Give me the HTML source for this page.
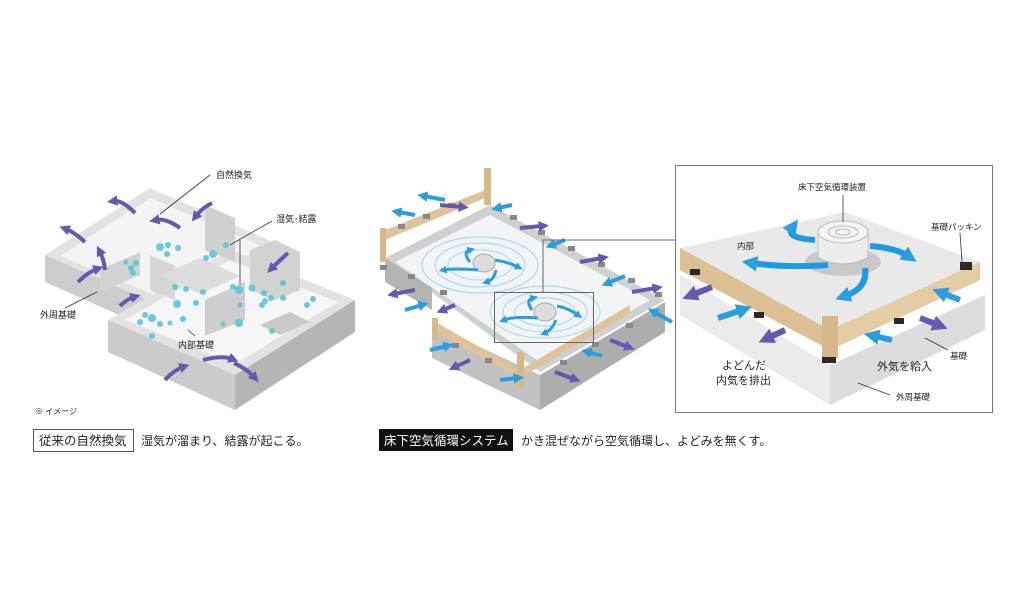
<!DOCTYPE html>
<html><head><meta charset="utf-8"><style>
html,body{margin:0;padding:0;background:#fff;}
svg{display:block;}
text{font-family:"Liberation Sans","Noto Sans CJK JP",sans-serif;fill:#222;}
</style></head><body>
<svg width="1024" height="614" viewBox="0 0 1024 614" xmlns="http://www.w3.org/2000/svg">
<defs>
<marker id="ap" viewBox="0 0 6 6" markerWidth="2.6" markerHeight="2.6" refX="2" refY="3" orient="auto" markerUnits="strokeWidth"><path d="M0,0 L6,3 L0,6 z" fill="#6458b0"/></marker>
<marker id="ab" viewBox="0 0 6 6" markerWidth="2.6" markerHeight="2.6" refX="2" refY="3" orient="auto" markerUnits="strokeWidth"><path d="M0,0 L6,3 L0,6 z" fill="#2a9ede"/></marker>
</defs>

<!-- LEFT DIAGRAM -->
<g>
<polygon points="45,255 150,188 280,245 175,312" fill="#e2e2e2"/>
<polygon points="45,255 175,312 175,340 45,282" fill="#cdcdcd"/>
<polygon points="60,256 150,198 262,246 172,302" fill="#f4f4f4"/>
<polygon points="108,320 230,250 355,300 235,375" fill="#e2e2e2"/>
<polygon points="108,320 235,375 235,410 108,352" fill="#cbcbcb"/>
<polygon points="235,375 355,300 355,332 235,410" fill="#b5b5b5"/>
<polygon points="125,320 230,260 338,302 235,364" fill="#f6f6f6"/>
<polygon points="205,205 235,218 235,262 205,250" fill="#d0d0d0"/>
<polygon points="150,255 175,266 175,300 150,290" fill="#d6d6d6"/>
<polygon points="160,275 200,258 240,276 200,294" fill="#dcdcdc"/>
<polygon points="250,250 275,240 300,252 300,290 275,300 250,290" fill="#d2d2d2"/>
<polygon points="205,300 245,282 245,320 205,336" fill="#cecece"/>
<polygon points="260,325 290,312 310,322 280,335" fill="#c9c9c9"/>
<polygon points="100,270 140,252 140,275 100,292" fill="#d2d2d2"/>
<g fill="#5ec4d8" opacity="0.9">
<circle cx="160" cy="247" r="4"/><circle cx="168" cy="245" r="3"/><circle cx="178" cy="248" r="3"/><circle cx="167" cy="254" r="3"/>
<circle cx="131" cy="268" r="3"/><circle cx="136" cy="263" r="3"/><circle cx="133" cy="273" r="3"/><circle cx="126" cy="262" r="2.5"/>
<circle cx="206" cy="258" r="3"/><circle cx="213" cy="254" r="4"/><circle cx="226" cy="245" r="3"/>
<circle cx="175" cy="287" r="3"/><circle cx="186" cy="289" r="3"/><circle cx="177" cy="304" r="4"/><circle cx="196" cy="303" r="3"/><circle cx="203" cy="292" r="3"/>
<circle cx="145" cy="315" r="3"/><circle cx="140" cy="322" r="3"/><circle cx="152" cy="318" r="4"/><circle cx="160" cy="324" r="3"/><circle cx="152" cy="336" r="3"/><circle cx="170" cy="323" r="2.5"/><circle cx="183" cy="319" r="3"/>
<circle cx="233" cy="287" r="3"/><circle cx="239" cy="290" r="4"/><circle cx="252" cy="288" r="3.5"/><circle cx="264" cy="293" r="3"/><circle cx="265" cy="301" r="3"/><circle cx="271" cy="298" r="3"/><circle cx="262" cy="305" r="3"/><circle cx="240" cy="305" r="2.5"/><circle cx="239" cy="323" r="4"/><circle cx="223" cy="324" r="2.5"/>
<circle cx="283" cy="298" r="3"/><circle cx="313" cy="299" r="3"/><circle cx="307" cy="305" r="3"/><circle cx="283" cy="283" r="3"/><circle cx="272" cy="331" r="3"/>
</g>
<g fill="none" stroke="#6458b0" stroke-width="4" marker-end="url(#ap)">
<path d="M135,213 Q122,200 114,201"/>
<path d="M85,242 Q74,232 66,229"/>
<path d="M105,270 Q104,260 100,252"/>
<path d="M78,282 Q88,272 97,269"/>
<path d="M180,228 Q166,218 156,220"/>
<path d="M212,203 Q202,208 196,216"/>
<path d="M288,253 Q278,262 272,268"/>
<path d="M120,306 Q127,299 134,297"/>
<path d="M165,380 Q174,370 183,367"/>
<path d="M203,360 Q222,355 232,359"/>
<path d="M234,363 Q247,369 254,377"/>
</g>
<g stroke="#333" stroke-width="0.8" fill="none">
<line x1="160" y1="214" x2="210" y2="175"/>
<line x1="230" y1="245" x2="272" y2="221"/>
<line x1="240" y1="240" x2="240" y2="285"/>
<line x1="65" y1="308" x2="97" y2="292"/>
<line x1="188" y1="330" x2="195" y2="336"/>
</g>
<text x="216" y="178" font-size="9">自然換気</text>
<text x="276" y="222" font-size="9">湿気･結露</text>
<text x="40" y="318" font-size="9">外周基礎</text>
<text x="178" y="348" font-size="9">内部基礎</text>
<text x="35" y="414" font-size="8">※ イメージ</text>
<rect x="33.5" y="429.5" width="100" height="22" fill="none" stroke="#555" stroke-width="1"/>
<text x="39" y="445" font-size="12.5">従来の自然換気</text>
<text x="141" y="445" font-size="12">湿気が溜まり、結露が起こる。</text>
</g>

<!-- MIDDLE DIAGRAM -->
<g>
<polygon points="385,258 490,205 665,300 540,372" fill="#d0d0d0"/>
<polygon points="395,262 490,215 650,300 540,362" fill="#f2f4f6"/>
<polygon points="385,258 432,288 432,310 385,282" fill="#b4b4b4"/>
<polygon points="432,325 540,375 540,410 432,358" fill="#c2c2c2"/>
<polygon points="540,375 665,302 665,332 540,410" fill="#adadad"/>
<g fill="none" stroke="#9fd4ee" stroke-width="1.2" opacity="0.8">
<ellipse cx="480" cy="265" rx="45" ry="22"/><ellipse cx="480" cy="265" rx="32" ry="15"/><ellipse cx="480" cy="265" rx="58" ry="28"/>
<ellipse cx="545" cy="312" rx="42" ry="20"/><ellipse cx="545" cy="312" rx="30" ry="14"/><ellipse cx="545" cy="312" rx="55" ry="26"/>
</g>
<ellipse cx="484" cy="263" rx="11" ry="9" fill="#ddd" stroke="#aaa"/>
<ellipse cx="545" cy="312" rx="11" ry="9" fill="#ddd" stroke="#aaa"/>
<g fill="none" stroke="#2a9ede" stroke-width="3" marker-end="url(#ab)">
<path d="M470,262 Q462,252 470,250"/><path d="M495,260 Q508,262 518,267"/><path d="M478,270 Q455,268 444,270"/><path d="M496,270 Q494,280 487,282"/>
<path d="M532,310 Q525,300 533,298"/><path d="M557,306 Q568,308 578,315"/><path d="M538,318 Q514,316 504,320"/><path d="M556,320 Q552,330 545,333"/>
</g>
<polygon points="380,232 490,188 490,196 380,242" fill="#dfc49a"/>
<polygon points="380,228 386,228 386,262 380,262" fill="#d7b88b"/>
<polygon points="484,168 491,168 491,205 484,205" fill="#d7b88b"/>
<polygon points="432,320 520,370 520,378 432,330" fill="#dfc49a"/>
<polygon points="520,370 630,305 630,313 520,378" fill="#dfc49a"/>
<polygon points="517,352 524,352 524,388 517,388" fill="#d7b88b"/>
<polygon points="432,318 438,318 438,340 432,340" fill="#d7b88b"/>
<g fill="#888">
<rect x="398" y="224" width="7" height="5"/><rect x="423" y="214" width="7" height="5"/><rect x="448" y="203" width="7" height="5"/><rect x="510" y="215" width="7" height="5"/><rect x="538" y="230" width="7" height="5"/><rect x="568" y="246" width="7" height="5"/><rect x="598" y="262" width="7" height="5"/><rect x="628" y="278" width="7" height="5"/><rect x="655" y="292" width="7" height="5"/>
<rect x="408" y="274" width="7" height="5"/><rect x="440" y="290" width="7" height="5"/><rect x="452" y="343" width="7" height="5"/><rect x="485" y="358" width="7" height="5"/><rect x="560" y="360" width="7" height="5"/><rect x="592" y="342" width="7" height="5"/><rect x="626" y="323" width="7" height="5"/><rect x="380" y="265" width="7" height="5"/>
</g>
<g fill="none" stroke-width="4">
<path d="M445,200 L424,196" stroke="#2a9ede" marker-end="url(#ab)"/>
<path d="M415,215 L398,212" stroke="#2a9ede" marker-end="url(#ab)"/>
<path d="M440,205 L462,207" stroke="#6458b0" marker-end="url(#ap)"/>
<path d="M512,205 L498,208" stroke="#2a9ede" marker-end="url(#ab)"/>
<path d="M520,228 L542,226" stroke="#6458b0" marker-end="url(#ap)"/>
<path d="M565,240 L552,245" stroke="#2a9ede" marker-end="url(#ab)"/>
<path d="M580,262 L602,258" stroke="#6458b0" marker-end="url(#ap)"/>
<path d="M625,276 L608,283" stroke="#2a9ede" marker-end="url(#ab)"/>
<path d="M632,292 L656,288" stroke="#6458b0" marker-end="url(#ap)"/>
<path d="M672,322 L654,312" stroke="#2a9ede" marker-end="url(#ab)"/>
<path d="M610,340 L628,347" stroke="#6458b0" marker-end="url(#ap)"/>
<path d="M602,356 L588,352" stroke="#2a9ede" marker-end="url(#ab)"/>
<path d="M555,372 L574,379" stroke="#6458b0" marker-end="url(#ap)"/>
<path d="M500,380 L517,378" stroke="#2a9ede" marker-end="url(#ab)"/>
<path d="M470,360 L455,367" stroke="#6458b0" marker-end="url(#ap)"/>
<path d="M430,350 L447,346" stroke="#2a9ede" marker-end="url(#ab)"/>
<path d="M415,290 L394,294" stroke="#6458b0" marker-end="url(#ap)"/>
<path d="M405,310 L422,305" stroke="#2a9ede" marker-end="url(#ab)"/>
<path d="M455,305 L443,310" stroke="#6458b0" marker-end="url(#ap)"/>
</g>
<rect x="494.5" y="292.5" width="99" height="50" fill="none" stroke="#666" stroke-width="1"/>
<polyline points="543,292 543,240 676,240" fill="none" stroke="#666" stroke-width="1"/>
<rect x="379" y="429" width="134" height="22" fill="#111"/>
<text x="384" y="445" font-size="12.5" style="fill:#fff">床下空気循環システム</text>
<text x="521" y="445" font-size="12">かき混ぜながら空気循環し、よどみを無くす。</text>
</g>

<!-- RIGHT PANEL -->
<g>
<rect x="675.5" y="165.5" width="317" height="247" fill="#fff" stroke="#777" stroke-width="1"/>
<polygon points="680,275 830,365 985,295 985,330 830,405 680,315" fill="#ebebeb"/>
<polygon points="830,365 985,295 985,330 830,405" fill="#dcdcdc"/>
<polygon points="680,248 845,212 980,262 830,332" fill="#e9e9e9"/>
<polygon points="680,248 830,330 830,350 680,270" fill="#dcbf93"/>
<polygon points="830,330 980,262 980,280 830,350" fill="#e4cca5"/>
<polygon points="822,316 838,316 838,358 822,358" fill="#d7b88b"/>
<g fill="#2a2a2a"><rect x="690" y="269" width="10" height="6"/><rect x="754" y="312" width="10" height="6"/><rect x="822" y="357" width="14" height="6"/><rect x="894" y="318" width="10" height="6"/><rect x="960" y="262" width="12" height="8"/></g>
<ellipse cx="843" cy="262" rx="38" ry="14" fill="#c9c9c9"/>
<path d="M818,232 L868,232 L868,258 Q843,270 818,258 Z" fill="#ececec" stroke="#bbb"/>
<ellipse cx="843" cy="232" rx="25" ry="11" fill="#f4f4f4" stroke="#bbb"/>
<ellipse cx="843" cy="232" rx="15" ry="6" fill="none" stroke="#bbb"/>
<ellipse cx="843" cy="232" rx="7" ry="3" fill="none" stroke="#bbb"/>
<g fill="none" stroke="#1f9ae0" stroke-width="6" marker-end="url(#ab)">
<path d="M815,240 Q785,238 792,228"/>
<path d="M870,246 Q896,248 908,256"/>
<path d="M828,265 Q785,268 752,263"/>
<path d="M865,268 Q868,288 845,296"/>
</g>
<g fill="none" stroke-width="6">
<path d="M712,287 L692,295" stroke="#6458b0" marker-end="url(#ap)"/>
<path d="M718,318 L742,310" stroke="#2a9ede" marker-end="url(#ab)"/>
<path d="M785,330 L768,338" stroke="#6458b0" marker-end="url(#ap)"/>
<path d="M960,300 L942,293" stroke="#2a9ede" marker-end="url(#ab)"/>
<path d="M920,318 L938,325" stroke="#6458b0" marker-end="url(#ap)"/>
<path d="M892,340 L874,336" stroke="#2a9ede" marker-end="url(#ab)"/>
</g>
<g stroke="#333" stroke-width="0.8">
<line x1="843" y1="195" x2="843" y2="222"/>
<line x1="960" y1="233" x2="962" y2="262"/>
<line x1="925" y1="338" x2="948" y2="350"/>
<line x1="858" y1="383" x2="890" y2="395"/>
</g>
<text x="798" y="190" font-size="8.5">床下空気循環装置</text>
<text x="931" y="230" font-size="8.5">基礎パッキン</text>
<text x="737" y="249" font-size="8.5">内部</text>
<text x="950" y="359" font-size="8.5">基礎</text>
<text x="896" y="400" font-size="8.5">外周基礎</text>
<text x="722" y="369" font-size="11">よどんだ</text>
<text x="716" y="384" font-size="11">内気を排出</text>
<text x="877" y="370" font-size="11">外気を給入</text>
</g>
</svg>
</body></html>
